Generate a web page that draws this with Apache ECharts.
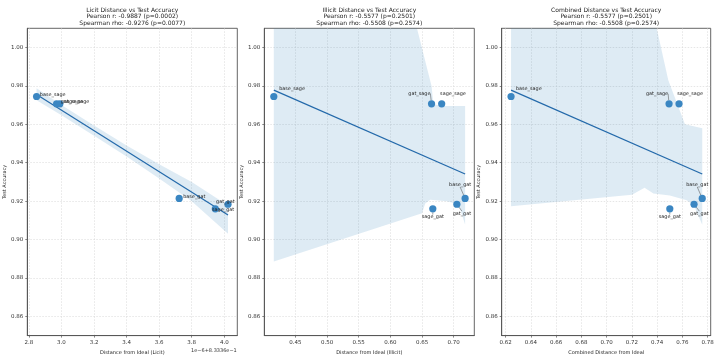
<!DOCTYPE html>
<html>
<head>
<meta charset="utf-8">
<script src="https://cdn.jsdelivr.net/npm/echarts@6/dist/echarts.min.js"></script>
<style>html,body{margin:0;padding:0;background:#fff;}#c{width:720px;height:360px;}</style>
</head>
<body>
<div id="c"></div>
<script>
// ---------- data ----------
const models = ['base_sage', 'gat_sage', 'sage_sage', 'base_gat', 'gat_gat', 'sage_gat'];
const accuracy = [0.9745, 0.9707, 0.9707, 0.9214, 0.9184, 0.9160];
// licit distance shown as (value - 8.3336e-1) / 1e-6
const licitDist = [2.847, 2.970, 2.990, 3.723, 4.023, 3.945];
const illicitDist = [0.416, 0.665, 0.681, 0.718, 0.705, 0.667];
const combinedDist = [0.6242, 0.7494, 0.7573, 0.7757, 0.7692, 0.7500];

const titles = [
  'Licit Distance vs Test Accuracy\nPearson r: -0.9887 (p=0.0002)\nSpearman rho: -0.9276 (p=0.0077)',
  'Illicit Distance vs Test Accuracy\nPearson r: -0.5577 (p=0.2501)\nSpearman rho: -0.5508 (p=0.2574)',
  'Combined Distance vs Test Accuracy\nPearson r: -0.5577 (p=0.2501)\nSpearman rho: -0.5508 (p=0.2574)'
];
const xNames = ['Distance from Ideal (Licit)', 'Distance from Ideal (Illicit)', 'Combined Distance from Ideal'];
const yName = 'Test Accuracy';
const licitOffsetText = '1e\u22126+8.3336e\u22121';

const yTicks = [0.86, 0.88, 0.90, 0.92, 0.94, 0.96, 0.98, 1.00];
const licitTicks = [2.8, 3.0, 3.2, 3.4, 3.6, 3.8, 4.0];
const illicitTicks = [0.45, 0.50, 0.55, 0.60, 0.65, 0.70];
const combinedTicks = [0.62, 0.64, 0.66, 0.68, 0.70, 0.72, 0.74, 0.76, 0.78];

// regression lines
const licitFitX = [2.847, 4.023];
const licitFitY = [0.9755, 0.9128];
const illicitFitX = [0.416, 0.718];
const illicitFitY = [0.9778, 0.9341];
const combinedFitX = [0.6242, 0.7757];
const combinedFitY = [0.9778, 0.9341];

// confidence bands
const licitBandX = [2.847, 3.0, 3.2, 3.4, 3.6, 3.8, 4.023];
const licitBandUpper = [0.9788, 0.9701, 0.9594, 0.9490, 0.9392, 0.9300, 0.9178];
const licitBandLower = [0.9725, 0.9647, 0.9540, 0.9432, 0.9318, 0.9200, 0.9030];

const illicitUpperX = [0.416, 0.642, 0.665, 0.668, 0.683, 0.718];
const illicitUpperY = [1.01, 1.01, 0.980, 0.9705, 0.9695, 0.9695];
const illicitLowerX = [0.416, 0.650, 0.655, 0.663, 0.689, 0.700, 0.710, 0.718];
const illicitLowerY = [0.8886, 0.9137, 0.9188, 0.9207, 0.9200, 0.9190, 0.9160, 0.9078];

const combinedUpperX = [0.6242, 0.7396, 0.7488, 0.762, 0.7757];
const combinedUpperY = [1.01, 1.01, 0.983, 0.960, 0.958];
const combinedLowerX = [0.6242, 0.720, 0.730, 0.737, 0.750, 0.7634, 0.769, 0.7757];
const combinedLowerY = [0.9174, 0.9234, 0.927, 0.924, 0.923, 0.9205, 0.918, 0.9077];

// ---------- layout / style ----------
const FONT = 'DejaVu Sans';
const grids = [
  {left: 27.3, top: 28.3, width: 210, height: 309.4},
  {left: 264.3, top: 28.3, width: 210, height: 309.4},
  {left: 501.7, top: 28.3, width: 209, height: 309.4}
];
const xRanges = [[2.79, 4.08], [0.401, 0.7325], [0.6168, 0.7824]];
const xTickSets = [licitTicks, illicitTicks, combinedTicks];
const xDecimals = [1, 2, 2];
// label offsets (label centre relative to point centre, px) and whether a leader line is drawn
const labelOffsets = [
  [[16.1, -2], [15.3, -2], [16.6, -2], [15.1, -1.5], [-2.7, -2], [7.8, 1.3]],
  [[18.3, -7.7], [-12.2, -10], [11.3, -10], [-5, -14], [5, 9.4], [0, 8.3]],
  [[17.8, -7.7], [-12, -10], [11, -10], [-5, -14], [5.3, 9.4], [0, 8.3]]
];
const leaderLines = [
  [false, false, false, false, false, false],
  [false, true, false, true, true, true],
  [false, true, false, true, true, true]
];

const POINT = '#3a86c2';
const LINE = '#2369aa';
const BAND = 'rgba(31,119,180,0.15)';

const xs = [licitDist, illicitDist, combinedDist];
const fits = [[licitFitX, licitFitY], [illicitFitX, illicitFitY], [combinedFitX, combinedFitY]];
const bands = [
  [licitBandX, licitBandUpper, licitBandX, licitBandLower],
  [illicitUpperX, illicitUpperY, illicitLowerX, illicitLowerY],
  [combinedUpperX, combinedUpperY, combinedLowerX, combinedLowerY]
];

const option = {
  animation: false,
  backgroundColor: '#fff',
  title: titles.map((t, i) => ({
    text: t,
    left: grids[i].left + grids[i].width / 2,
    top: 6.6,
    textAlign: 'center',
    padding: 0,
    textStyle: {fontFamily: FONT, fontSize: 6, fontWeight: 'normal', color: '#222', lineHeight: 6.7}
  })),
  grid: grids.map(g => Object.assign({show: true, borderColor: '#555', borderWidth: 0.9, backgroundColor: 'transparent'}, g)),
  xAxis: grids.map((g, i) => ({
    type: 'value', gridIndex: i, min: xRanges[i][0], max: xRanges[i][1],
    name: xNames[i], nameLocation: 'middle', nameGap: 10.5,
    nameTextStyle: {fontFamily: FONT, fontSize: 5, color: '#222'},
    axisLine: {show: true, onZero: false, lineStyle: {color: '#555', width: 0.9}},
    axisTick: {show: true, length: 2, customValues: xTickSets[i], lineStyle: {color: '#555', width: 0.7}},
    axisLabel: {customValues: xTickSets[i], margin: 3.5, fontFamily: FONT, fontSize: 5.5, color: '#333',
      formatter: v => v.toFixed(xDecimals[i])},
    splitLine: {show: true, lineStyle: {color: '#d5d5d5', type: [1.5, 1.5], width: 0.6}}
  })),
  yAxis: grids.map((g, i) => ({
    type: 'value', gridIndex: i, min: 0.85, max: 1.01,
    name: yName, nameLocation: 'middle', nameGap: 17, nameRotate: 90,
    nameTextStyle: {fontFamily: FONT, fontSize: 5, color: '#222'},
    axisLine: {show: true, onZero: false, lineStyle: {color: '#555', width: 0.9}},
    axisTick: {show: true, length: 2, customValues: yTicks, lineStyle: {color: '#555', width: 0.7}},
    axisLabel: {customValues: yTicks, margin: 4, fontFamily: FONT, fontSize: 5.5, color: '#333',
      formatter: v => v.toFixed(2)},
    splitLine: {show: true, lineStyle: {color: '#d5d5d5', type: [1.5, 1.5], width: 0.6}}
  })),
  graphic: [{
    type: 'text', x: grids[0].left + grids[0].width - 0.5, y: 351,
    style: {text: licitOffsetText, font: '5px "DejaVu Sans"', fill: '#333', align: 'right', verticalAlign: 'middle'}
  }],
  series: []
};

for (let i = 0; i < 3; i++) {
  const b = bands[i];
  option.series.push({
    type: 'custom', xAxisIndex: i, yAxisIndex: i, clip: true, silent: true, z: 1,
    data: [[b[0][0], b[1][0]]],
    renderItem: function (params, api) {
      const pts = [];
      for (let k = 0; k < b[0].length; k++) pts.push(api.coord([b[0][k], b[1][k]]));
      for (let k = b[2].length - 1; k >= 0; k--) pts.push(api.coord([b[2][k], b[3][k]]));
      return {type: 'polygon', shape: {points: pts}, style: {fill: BAND, stroke: null}};
    }
  });
  const f = fits[i];
  option.series.push({
    type: 'line', xAxisIndex: i, yAxisIndex: i, silent: true, z: 2, showSymbol: false,
    data: f[0].map((x, k) => [x, f[1][k]]),
    lineStyle: {color: LINE, width: 1.2}
  });
  option.series.push({
    type: 'scatter', xAxisIndex: i, yAxisIndex: i, z: 3, symbolSize: 7.2,
    itemStyle: {color: POINT, opacity: 1},
    data: xs[i].map((x, k) => ({
      name: models[k], value: [x, accuracy[k]],
      labelLine: {show: leaderLines[i][k]}
    })),
    label: {show: true, position: 'inside', formatter: p => p.name, fontFamily: FONT, fontSize: 4.9, color: '#222',
      align: 'center', verticalAlign: 'middle'},
    labelLine: {show: false, lineStyle: {color: '#444', width: 0.5}},
    labelLayout: function (params) {
      const o = labelOffsets[i][params.dataIndex];
      return {dx: o[0], dy: o[1]};
    }
  });
}

const chart = echarts.init(document.getElementById('c'), null, {renderer: 'canvas'});
chart.setOption(option);
</script>
</body>
</html>
